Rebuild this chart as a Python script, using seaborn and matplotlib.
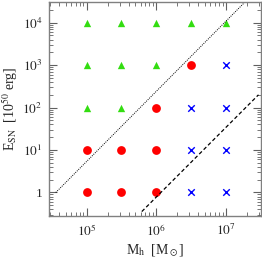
import matplotlib
matplotlib.use('Agg')
import matplotlib.pyplot as plt
import matplotlib.ticker as mticker
import pandas as pd
import seaborn as sns

halo_mass = [1e5, 3.16e5, 1e6, 3.16e6, 1e7]
sn_energy = [1, 10, 100, 1000, 10000]
# outcome per (mass, energy), rows follow halo_mass, columns follow sn_energy
outcomes = [
    ['red', 'red', 'green', 'green', 'green'],
    ['red', 'red', 'green', 'green', 'green'],
    ['red', 'red', 'red', 'green', 'green'],
    ['blue', 'blue', 'blue', 'red', 'green'],
    ['blue', 'blue', 'blue', 'blue', 'green'],
]

dotted_x = [3.6e4, 1.9e7]
dotted_y = [1.0, 3.1e4]
dashed_x = [6.2e5, 2.95e7]
dashed_y = [0.355, 200]

rows = []
for i, m in enumerate(halo_mass):
    for j, e in enumerate(sn_energy):
        rows.append({'M': m, 'E': e, 'outcome': outcomes[i][j]})
df = pd.DataFrame(rows)

sns.set_style('ticks')
plt.rcParams['font.family'] = ['Liberation Serif', 'DejaVu Serif']
plt.rcParams['mathtext.fontset'] = 'stix'

fig = plt.figure(figsize=(2.62, 2.58), dpi=100)
ax = fig.add_axes([0.188, 0.163, 0.808, 0.830])

palette = {'green': '#33dd11', 'red': '#ff0000', 'blue': '#0000ff'}
markers = {'green': '^', 'red': 'o', 'blue': 'X'}
sizes = {'green': 28, 'red': 40, 'blue': 22}
for key in ['green', 'red', 'blue']:
    sub = df[df['outcome'] == key]
    if key == 'blue':
        sns.scatterplot(data=sub, x='M', y='E', ax=ax, color=palette[key],
                        marker='x', s=sizes[key], linewidth=1.0, legend=False)
    else:
        sns.scatterplot(data=sub, x='M', y='E', ax=ax, color=palette[key],
                        marker=markers[key], s=sizes[key], linewidth=0, legend=False)

ax.plot(dotted_x, dotted_y, color='black', ls=(0, (1, 1.2)), lw=0.7)
ax.plot(dashed_x, dashed_y, color='black', ls=(0, (3, 2)), lw=0.9)

ax.set_xscale('log')
ax.set_yscale('log')
ax.set_xlim(2.9e4, 3.2e7)
ax.set_ylim(0.28, 3.1e4)

ax.set_xticks([1e5, 1e6, 1e7])
ax.set_xticklabels(['$10^5$', '$10^6$', '$10^7$'])
ax.set_yticks([1, 10, 100, 1000, 10000])
ax.set_yticklabels(['1', '$10^1$', '$10^2$', '$10^3$', '$10^4$'])
ax.xaxis.set_minor_locator(mticker.LogLocator(base=10, subs=range(2, 10), numticks=20))
ax.yaxis.set_minor_locator(mticker.LogLocator(base=10, subs=range(2, 10), numticks=20))
ax.xaxis.set_minor_formatter(mticker.NullFormatter())
ax.yaxis.set_minor_formatter(mticker.NullFormatter())

for side in ['top', 'right', 'bottom', 'left']:
    ax.spines[side].set_visible(True)
    ax.spines[side].set_color('#808080')
    ax.spines[side].set_linewidth(1.0)
ax.tick_params(which='both', direction='in', top=True, right=True,
               color='#606060', labelsize=9.5, pad=5)
ax.tick_params(which='major', length=6, width=0.8)
ax.tick_params(which='minor', length=3, width=0.6)

ax.set_xlabel(r'M$_{\rm h}$  [M$_\odot$]', fontsize=10, labelpad=3)
ax.set_ylabel(r'E$_{\rm SN}$  [10$^{50}$ erg]', fontsize=10, labelpad=2)

fig.savefig('out.png', dpi=100)
